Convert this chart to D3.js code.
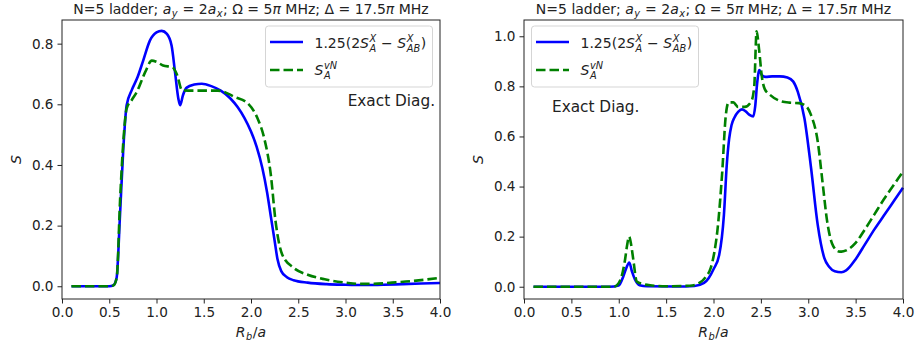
<!DOCTYPE html>
<html><head><meta charset="utf-8">
<script src="https://cdn.jsdelivr.net/npm/d3@7"></script>
<style>
body{margin:0;background:#fff;}
svg{display:block;font-family:"DejaVu Sans",sans-serif;}
</style></head>
<body><svg id="c" width="916" height="349"></svg>
<script>
// ---------- data ----------
const xTicks = [0, 0.5, 1.0, 1.5, 2.0, 2.5, 3.0, 3.5, 4.0];
const yTicksLeft = [0, 0.2, 0.4, 0.6, 0.8];
const yTicksRight = [0, 0.2, 0.4, 0.6, 0.8, 1.0];
const xDomain = [0, 4];
const yDomainLeft = [-0.042, 0.878];
const yDomainRight = [-0.049, 1.065];

// left panel: 1.25(2S_A^X - S_AB^X)
const leftBlueR = [0.1,0.5,0.543,0.578,0.614,0.649,0.684,0.737,0.80,0.86,0.93,1.0,1.055,1.11,1.16,1.196,1.231,1.25,1.28,1.32,1.40,1.48,1.58,1.68,1.78,1.86,1.93,2.0,2.06,2.12,2.17,2.21,2.25,2.28,2.32,2.38,2.45,2.6,2.8,3.0,3.2,3.4,3.6,3.8,4.0];
const leftBlueS = [0,0,0.003,0.028,0.236,0.455,0.597,0.646,0.69,0.745,0.81,0.837,0.842,0.832,0.793,0.706,0.619,0.597,0.63,0.655,0.665,0.668,0.66,0.645,0.62,0.59,0.555,0.51,0.46,0.39,0.31,0.23,0.15,0.09,0.05,0.03,0.02,0.012,0.007,0.005,0.004,0.005,0.007,0.009,0.011];
// left panel: S_A^vN
const leftGreenR = [0.1,0.5,0.545,0.58,0.614,0.649,0.684,0.74,0.79,0.88,0.95,1.0,1.07,1.17,1.22,1.27,1.38,1.5,1.65,1.83,1.97,2.07,2.14,2.21,2.26,2.33,2.45,2.6,2.78,3.0,3.13,3.3,3.49,3.7,3.85,4.0];
const leftGreenS = [0,0,0.003,0.03,0.28,0.477,0.586,0.615,0.64,0.706,0.744,0.74,0.728,0.722,0.695,0.646,0.645,0.645,0.645,0.624,0.602,0.553,0.488,0.367,0.214,0.105,0.061,0.038,0.023,0.012,0.008,0.008,0.012,0.017,0.022,0.028];

// right panel: 1.25(2S_A^X - S_AB^X)
const rightBlueR = [0.1,0.9,1.0,1.048,1.08,1.111,1.14,1.17,1.22,1.3,1.6,1.8,1.9,1.95,2.0,2.06,2.11,2.14,2.165,2.19,2.22,2.26,2.30,2.34,2.38,2.42,2.44,2.46,2.484,2.51,2.55,2.62,2.7,2.78,2.84,2.89,2.96,3.03,3.10,3.17,3.22,3.28,3.35,3.4,3.5,3.6,3.7,3.8,3.9,4.0];
const rightBlueS = [0,0,0.005,0.041,0.075,0.097,0.06,0.03,0.006,0.002,0.001,0.003,0.015,0.035,0.07,0.127,0.287,0.486,0.59,0.645,0.675,0.698,0.708,0.70,0.686,0.68,0.72,0.81,0.865,0.845,0.838,0.84,0.84,0.835,0.82,0.778,0.672,0.473,0.247,0.114,0.08,0.062,0.058,0.065,0.11,0.17,0.23,0.285,0.34,0.395];
// right panel: S_A^vN
const rightGreenR = [0.1,0.95,1.01,1.066,1.09,1.11,1.13,1.154,1.19,1.26,1.35,1.5,1.75,1.85,1.92,1.97,2.01,2.04,2.09,2.13,2.16,2.21,2.26,2.33,2.40,2.43,2.455,2.48,2.51,2.54,2.60,2.70,2.8,2.9,2.98,3.03,3.10,3.15,3.20,3.25,3.32,3.35,3.4,3.5,3.6,3.7,3.8,3.9,4.0];
const rightGreenS = [0,0,0.021,0.107,0.17,0.20,0.17,0.107,0.021,0.01,0.005,0.002,0.004,0.015,0.04,0.074,0.14,0.22,0.446,0.685,0.736,0.736,0.718,0.718,0.741,0.80,1.02,0.951,0.84,0.79,0.765,0.742,0.735,0.733,0.72,0.685,0.58,0.42,0.26,0.174,0.141,0.14,0.145,0.175,0.23,0.29,0.35,0.405,0.46];

const titleParts = [
  {t:"N=5 ladder; "},{t:"a",i:true,sub:"y"},{t:" = 2"},{t:"a",i:true,sub:"x"},
  {t:"; Ω = 5"},{t:"π",i:true},{t:" MHz; Δ = 17.5"},{t:"π",i:true},{t:" MHz"}];
const legendBlue = [{t:"1.25(2"},{t:"S",i:true,sub:"A",sup:"X"},{t:" − "},{t:"S",i:true,sub:"AB",sup:"X"},{t:")"}];
const legendGreen = [{t:"S",i:true,sub:"A",sup:"vN"}];
const xLabelParts = [{t:"R",i:true,sub:"b"},{t:"/"},{t:"a",i:true}];
const annotation = "Exact Diag.";

// ---------- drawing ----------
const svg = d3.select("#c");

function drawMath(g, x, y, parts, fs, anchor) {
  const grp = g.append("g");
  let cx = 0;
  for (const p of parts) {
    const t = grp.append("text").attr("x", cx).attr("y", 0).attr("font-size", fs)
      .attr("font-style", p.i ? "italic" : "normal").text(p.t).style("white-space","pre");
    cx += t.node().getComputedTextLength();
    let adv = 0;
    if (p.sup) {
      const s = grp.append("text").attr("x", cx + 0.5).attr("y", -0.42 * fs).attr("font-size", fs * 0.7)
        .attr("font-style", "italic").text(p.sup);
      adv = Math.max(adv, s.node().getComputedTextLength());
    }
    if (p.sub) {
      const s = grp.append("text").attr("x", cx + 0.5).attr("y", (p.sup ? 0.3 : 0.22) * fs).attr("font-size", fs * 0.7)
        .attr("font-style", "italic").text(p.sub);
      adv = Math.max(adv, s.node().getComputedTextLength());
    }
    if (adv) cx += adv + 1;
  }
  let ox = x;
  if (anchor === "middle") ox = x - cx / 2;
  else if (anchor === "end") ox = x - cx;
  grp.attr("transform", `translate(${ox},${y})`);
  return grp;
}

function panel(cfg) {
  const {left, right, top, bottom, yDomain, yTicks, blue, green, legendX, annoX, annoY, annoAnchor} = cfg;
  const x = d3.scaleLinear().domain(xDomain).range([left, right]);
  const y = d3.scaleLinear().domain(yDomain).range([bottom, top]);
  const g = svg.append("g");

  const line = d3.line().x(d => x(d[0])).y(d => y(d[1])).curve(d3.curveMonotoneX);

  g.append("path").datum(blue).attr("d", line).attr("fill", "none")
    .attr("stroke", "#0000ff").attr("stroke-width", 2.6).attr("stroke-linejoin","round");
  g.append("path").datum(green).attr("d", line).attr("fill", "none")
    .attr("stroke", "#008000").attr("stroke-width", 2.6).attr("stroke-dasharray", "9.5,4");

  // axes
  const xa = g.append("g").attr("transform", `translate(0,${bottom})`)
    .call(d3.axisBottom(x).tickValues(xTicks).tickFormat(d3.format(".1f")).tickSize(4.5).tickPadding(4));
  const ya = g.append("g").attr("transform", `translate(${left},0)`)
    .call(d3.axisLeft(y).tickValues(yTicks).tickFormat(d3.format(".1f")).tickSize(4.5).tickPadding(4));
  [xa, ya].forEach(a => {
    a.select(".domain").remove();
    a.selectAll("text").attr("font-size", 13.6).attr("fill", "#222").attr("font-family", "DejaVu Sans");
    a.selectAll("line").attr("stroke", "#222");
  });
  g.append("rect").attr("x", left).attr("y", top).attr("width", right - left).attr("height", bottom - top)
    .attr("fill", "none").attr("stroke", "#222").attr("stroke-width", 1);

  // title
  const tg = drawMath(g, (left + right) / 2, 14, titleParts, 14, "middle");
  tg.attr("fill", "#222");
  // x label
  drawMath(g, (left + right) / 2, 337, xLabelParts, 14, "middle").attr("fill", "#222");
  // y label
  g.append("text").attr("transform", `translate(${left - 41},${(top + bottom) / 2}) rotate(-90)`)
    .attr("text-anchor", "middle").attr("font-size", 14).attr("font-style", "italic").attr("fill", "#222").text("S");

  // legend
  const lg = g.append("g");
  lg.append("rect").attr("x", legendX).attr("y", 26).attr("width", 167).attr("height", 61).attr("rx", 3)
    .attr("fill", "#fff").attr("fill-opacity", 0.8).attr("stroke", "#d5d5d5").attr("stroke-width", 1);
  lg.append("line").attr("x1", legendX + 4.5).attr("x2", legendX + 37.5).attr("y1", 42).attr("y2", 42)
    .attr("stroke", "#0000ff").attr("stroke-width", 2.6);
  lg.append("line").attr("x1", legendX + 4.5).attr("x2", legendX + 37.5).attr("y1", 70).attr("y2", 70)
    .attr("stroke", "#008000").attr("stroke-width", 2.6).attr("stroke-dasharray", "9.5,4");
  drawMath(lg, legendX + 49, 47.5, legendBlue, 14, "start").attr("fill", "#222");
  drawMath(lg, legendX + 49, 75, legendGreen, 14, "start").attr("fill", "#222");

  g.append("text").attr("x", annoX).attr("y", annoY).attr("text-anchor", annoAnchor)
    .attr("font-size", 15.3).attr("fill", "#222").text(annotation);
}

const zip = (a, b) => a.map((v, i) => [v, b[i]]);

panel({left: 62, right: 440, top: 20, bottom: 299, yDomain: yDomainLeft, yTicks: yTicksLeft,
  blue: zip(leftBlueR, leftBlueS), green: zip(leftGreenR, leftGreenS),
  legendX: 265.5, annoX: 435, annoY: 105.5, annoAnchor: "end"});
panel({left: 524, right: 903, top: 20, bottom: 299, yDomain: yDomainRight, yTicks: yTicksRight,
  blue: zip(rightBlueR, rightBlueS), green: zip(rightGreenR, rightGreenS),
  legendX: 531.5, annoX: 552, annoY: 112, annoAnchor: "start"});
</script></body></html>
